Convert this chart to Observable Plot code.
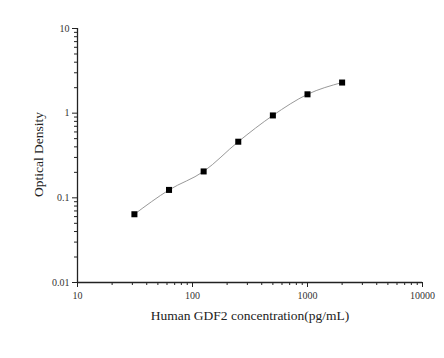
<!DOCTYPE html>
<html>
<head>
<meta charset="utf-8">
<script src="https://cdn.jsdelivr.net/npm/d3@7"></script>
<script src="https://cdn.jsdelivr.net/npm/@observablehq/plot@0.6"></script>
<style>
  html, body { margin: 0; padding: 0; background: #fff; }
  #chart svg { display: block; }
</style>
</head>
<body>
<div id="chart"></div>
<script>
const concentrations = [31.25, 62.5, 125, 250, 500, 1000, 2000];
const opticalDensity = [0.064, 0.124, 0.205, 0.46, 0.94, 1.67, 2.30];
const xMajorTicks = [10, 100, 1000, 10000];
const yMajorTicks = [0.01, 0.1, 1, 10];
const minorMultipliers = [2, 3, 4, 5, 6, 7, 8, 9];
const xLabel = "Human GDF2 concentration(pg/mL)";
const yLabel = "Optical Density";

const data = concentrations.map((c, i) => ({x: c, y: opticalDensity[i]}));
const xMinor = xMajorTicks.slice(0, -1).flatMap(d => minorMultipliers.map(m => d * m));
const yMinor = yMajorTicks.slice(0, -1).flatMap(d => minorMultipliers.map(m => d * m));

const axisColor = "#222";
const font = "'Liberation Serif', 'Times New Roman', serif";

const chart = Plot.plot({
  width: 444,
  height: 358,
  marginLeft: 77,
  marginRight: 22,
  marginTop: 28,
  marginBottom: 76,
  style: {fontFamily: font, color: "#333", background: "#fff"},
  x: {type: "log", domain: [10, 10000]},
  y: {type: "log", domain: [0.01, 10]},
  marks: [
    Plot.axisX(xMajorTicks, {tickSize: 5, tickPadding: 4, tickFormat: d => String(d), label: null, fontSize: 10, stroke: axisColor}),
    Plot.axisX(xMinor, {tickSize: 3, tickFormat: () => "", label: null, stroke: axisColor}),
    Plot.axisY(yMajorTicks, {tickSize: 5, tickPadding: 3, tickFormat: d => String(d), label: null, fontSize: 10, stroke: axisColor}),
    Plot.axisY(yMinor, {tickSize: 3, tickFormat: () => "", label: null, stroke: axisColor}),
    Plot.ruleX([10], {stroke: axisColor, strokeWidth: 1.3}),
    Plot.ruleY([0.01], {stroke: axisColor, strokeWidth: 1.3}),
    Plot.line(data, {x: "x", y: "y", curve: "monotone-x", stroke: "#999", strokeWidth: 1}),
    Plot.dot(data, {x: "x", y: "y", symbol: "square", r: 3.4, fill: "#000", stroke: null}),
    Plot.text([xLabel], {frameAnchor: "bottom", dy: 37, fontSize: 13.5, fill: "#222"}),
    Plot.text([yLabel], {frameAnchor: "left", textAnchor: "middle", dx: -39, dy: -1, rotate: -90, fontSize: 13.5, fill: "#222"})
  ]
});
document.getElementById("chart").appendChild(chart);
</script>
</body>
</html>
